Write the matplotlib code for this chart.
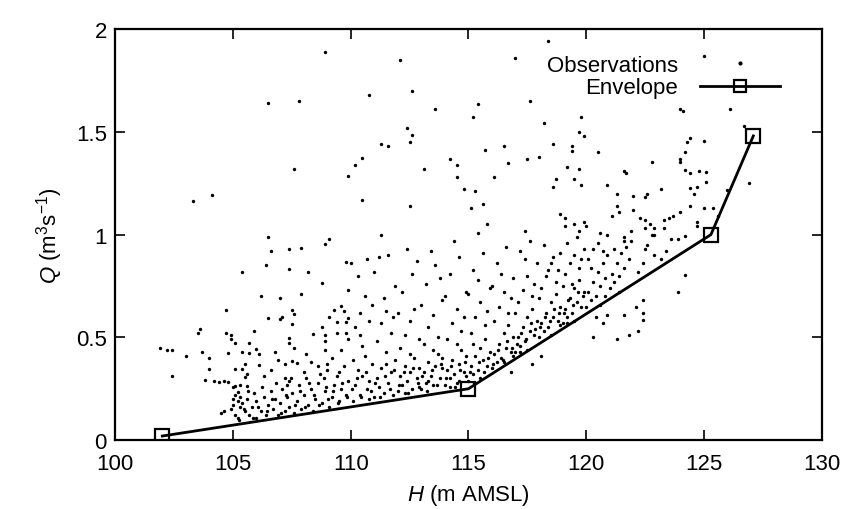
import matplotlib
matplotlib.use("Agg")
import matplotlib.pyplot as plt
from matplotlib.lines import Line2D
import numpy as np

plt.rcParams.update({
    "font.family": ["Liberation Sans", "DejaVu Sans"],
    "font.size": 15,
    "mathtext.fontset": "custom",
    "mathtext.it": "Liberation Sans:italic",
    "mathtext.rm": "Liberation Sans",
})

# ── Data ──────────────────────────────────────────────────────────────────
# envelope (lower bound of the observations)
env_h = [102.0, 115.0, 125.3, 127.1]
env_q = [0.02, 0.25, 1.00, 1.48]

# sparse points, upper part of the cloud (H, Q)
obs_upper = [
    (108.9, 1.89), (106.5, 1.64), (107.8, 1.65), (107.6, 1.32), (109.9, 1.285),
    (103.3, 1.165), (104.1, 1.195), (106.5, 0.99), (112.1, 1.85), (117.0, 1.86),
    (118.4, 1.94), (110.8, 1.68), (112.6, 1.70), (115.4, 1.635), (117.6, 1.65),
    (113.6, 1.61), (115.2, 1.57), (118.2, 1.545), (119.8, 1.57), (112.4, 1.52),
    (112.6, 1.485), (112.5, 1.45), (111.3, 1.44), (111.6, 1.43), (110.5, 1.375),
    (110.2, 1.34), (113.1, 1.32), (114.2, 1.37), (114.5, 1.34), (114.5, 1.28),
    (115.7, 1.41), (116.5, 1.43), (116.7, 1.35), (116.1, 1.28), (117.5, 1.37),
    (118.0, 1.38), (118.6, 1.44), (119.4, 1.43), (119.4, 1.405), (119.7, 1.50),
    (119.9, 1.48), (119.2, 1.33), (119.7, 1.32), (118.7, 1.27), (119.5, 1.27),
    (118.6, 1.23), (119.8, 1.24), (114.8, 1.22), (115.3, 1.21), (110.5, 1.17),
    (112.5, 1.14), (115.1, 1.13), (115.6, 1.15), (118.9, 1.10), (119.1, 1.08),
    (119.9, 1.06), (115.8, 1.05), (115.4, 1.01), (111.3, 1.00), (117.4, 1.02),
    (119.1, 1.04), (119.5, 1.05), (119.7, 1.02), (125.0, 1.87), (126.1, 1.61),
    (126.7, 1.53), (124.0, 1.61), (124.1, 1.60), (124.4, 1.47), (124.3, 1.45),
    (125.0, 1.455), (120.5, 1.40), (124.2, 1.40), (124.0, 1.37), (124.0, 1.355),
    (122.8, 1.355), (121.6, 1.31), (121.7, 1.30), (124.2, 1.315), (124.4, 1.30),
    (124.8, 1.31), (125.1, 1.305), (125.1, 1.255), (126.9, 1.25), (120.9, 1.24),
    (123.2, 1.22), (122.6, 1.20), (121.3, 1.20), (122.0, 1.19), (122.5, 1.185),
    (124.4, 1.225), (124.7, 1.23), (124.6, 1.20), (126.0, 1.215), (125.0, 1.13),
    (125.4, 1.13), (124.4, 1.14), (121.3, 1.14), (122.0, 1.12), (121.4, 1.11),
    (121.1, 1.09), (124.0, 1.11), (123.7, 1.09), (123.5, 1.08), (122.3, 1.08),
    (122.5, 1.07), (125.6, 1.09), (122.7, 1.05), (122.5, 1.03), (122.9, 1.03),
    (123.3, 1.03), (121.9, 1.02), (120.6, 1.01), (120.9, 1.00), (120.0, 1.04),
    (121.6, 0.97), (122.9, 1.00), (124.2, 0.995),
]

# left part of the cloud, H < 110
obs_left = [
    (109.1, 0.98), (108.9, 0.955), (106.6, 0.92), (107.4, 0.93), (107.9, 0.935),
    (109.8, 0.865), (110.0, 0.86), (105.4, 0.82), (106.4, 0.85), (107.4, 0.835),
    (108.2, 0.82), (108.8, 0.765), (109.9, 0.73), (107.9, 0.71), (106.2, 0.70),
    (107.0, 0.69), (109.6, 0.655), (109.7, 0.63), (104.7, 0.635), (107.5, 0.635),
    (107.6, 0.615), (109.3, 0.635), (106.5, 0.595), (107.0, 0.59), (107.1, 0.60),
    (109.1, 0.60), (107.5, 0.565), (108.8, 0.55), (109.4, 0.575), (109.8, 0.575),
    (109.9, 0.595), (103.6, 0.54), (105.9, 0.53), (104.7, 0.52), (104.9, 0.51),
    (104.9, 0.49), (105.1, 0.475), (105.7, 0.475), (106.0, 0.445), (106.1, 0.42),
    (107.4, 0.495), (107.4, 0.475), (107.6, 0.45), (108.4, 0.515), (108.9, 0.51),
    (108.9, 0.48), (108.9, 0.44), (109.4, 0.52), (109.8, 0.52), (109.9, 0.49),
    (101.9, 0.45), (102.4, 0.44), (103.0, 0.41), (103.7, 0.43), (104.8, 0.425),
    (105.4, 0.43), (105.7, 0.425), (106.8, 0.43), (102.4, 0.31), (104.0, 0.345),
    (103.8, 0.295), (104.2, 0.29), (104.4, 0.285), (104.6, 0.29), (104.8, 0.285),
    (105.0, 0.26), (105.1, 0.265), (105.3, 0.27), (105.6, 0.265), (105.5, 0.37),
    (105.4, 0.345), (105.6, 0.32), (105.5, 0.305), (105.1, 0.345), (106.1, 0.365),
    (107.2, 0.37), (107.5, 0.385), (107.7, 0.375), (108.3, 0.38), (107.2, 0.30),
    (107.4, 0.29), (107.3, 0.27), (102.2, 0.44), (103.5, 0.52), (104.0, 0.40),
    (108.1, 0.42), (108.6, 0.36), (109.2, 0.40), (109.6, 0.44), (106.6, 0.34),
    (106.9, 0.39), (108.0, 0.33), (109.0, 0.37), (109.5, 0.33), (106.3, 0.31),
]

# dense band just above the envelope, H 104.5-110
obs_band_low = [
    (104.5, 0.13), (104.6, 0.14), (104.9, 0.15), (105.0, 0.17), (105.0, 0.20),
    (105.1, 0.22), (105.2, 0.235), (105.2, 0.19), (105.3, 0.16), (105.3, 0.21),
    (105.4, 0.18), (105.1, 0.12), (105.2, 0.11), (105.5, 0.14), (105.6, 0.20),
    (105.7, 0.12), (105.8, 0.16), (105.9, 0.23), (106.0, 0.11), (106.0, 0.19),
    (106.2, 0.14), (106.3, 0.21), (106.4, 0.12), (106.5, 0.17), (106.6, 0.24),
    (106.7, 0.15), (106.8, 0.20), (106.9, 0.12), (107.0, 0.18), (107.1, 0.25),
    (107.2, 0.14), (107.3, 0.21), (107.4, 0.16), (107.5, 0.23), (107.6, 0.13),
    (107.7, 0.19), (107.8, 0.27), (107.9, 0.15), (108.0, 0.22), (108.1, 0.30),
    (108.2, 0.17), (108.3, 0.25), (108.4, 0.14), (108.5, 0.20), (108.6, 0.28),
    (108.7, 0.32), (108.8, 0.18), (108.9, 0.24), (109.0, 0.34), (109.1, 0.16),
    (109.2, 0.21), (109.3, 0.27), (109.4, 0.31), (109.5, 0.19), (109.6, 0.25),
    (109.7, 0.36), (109.8, 0.22), (109.9, 0.29), (105.25, 0.10), (105.45, 0.15),
    (105.65, 0.24), (105.85, 0.11), (106.05, 0.16), (106.25, 0.26), (106.45, 0.14),
    (106.65, 0.20), (106.85, 0.28), (107.05, 0.13), (107.25, 0.22), (107.45, 0.30),
    (107.65, 0.17), (107.85, 0.24), (108.05, 0.16), (108.25, 0.28), (108.45, 0.22),
    (108.65, 0.17), (108.85, 0.30), (108.95, 0.26), (109.05, 0.20), (109.25, 0.24),
    (109.45, 0.18), (109.65, 0.28), (109.85, 0.21),
]

# middle of the cloud, H 110-122
obs_mid = [
    (110.1, 0.19), (110.2, 0.27), (110.3, 0.34), (110.4, 0.22), (110.5, 0.31),
    (110.6, 0.41), (110.7, 0.25), (110.8, 0.20), (110.9, 0.37), (110.2, 0.55),
    (110.4, 0.62), (110.6, 0.70), (110.8, 0.58), (110.3, 0.80), (110.7, 0.88),
    (110.9, 0.66), (110.5, 0.46), (110.1, 0.39), (110.8, 0.29), (110.4, 0.51),
    (111.0, 0.21), (111.1, 0.30), (111.2, 0.26), (111.3, 0.35), (111.4, 0.23),
    (111.5, 0.43), (111.6, 0.28), (111.7, 0.33), (111.8, 0.22), (111.9, 0.39),
    (111.1, 0.48), (111.3, 0.57), (111.5, 0.63), (111.7, 0.52), (111.9, 0.75),
    (111.2, 0.89), (111.6, 0.90), (111.4, 0.69), (111.8, 0.60), (111.0, 0.82),
    (111.5, 0.37), (112.0, 0.24), (112.1, 0.31), (112.2, 0.27), (112.3, 0.36),
    (112.4, 0.29), (112.5, 0.33), (112.6, 0.25), (112.7, 0.40), (112.8, 0.30),
    (112.9, 0.35), (112.1, 0.45), (112.3, 0.51), (112.5, 0.58), (112.7, 0.64),
    (112.9, 0.49), (112.2, 0.72), (112.6, 0.81), (112.4, 0.93), (112.8, 0.87),
    (112.0, 0.62), (112.5, 0.42), (112.9, 0.26), (112.3, 0.23), (113.0, 0.25),
    (113.1, 0.33), (113.2, 0.28), (113.3, 0.38), (113.4, 0.31), (113.5, 0.27),
    (113.6, 0.36), (113.7, 0.42), (113.8, 0.30), (113.9, 0.35), (113.1, 0.47),
    (113.3, 0.55), (113.5, 0.61), (113.7, 0.50), (113.9, 0.68), (113.2, 0.76),
    (113.6, 0.85), (113.4, 0.92), (113.8, 0.79), (113.0, 0.66), (113.5, 0.44),
    (113.9, 0.40), (113.3, 0.29), (114.0, 0.27), (114.1, 0.34), (114.2, 0.30),
    (114.3, 0.39), (114.4, 0.32), (114.5, 0.28), (114.6, 0.37), (114.7, 0.44),
    (114.8, 0.33), (114.9, 0.41), (114.1, 0.49), (114.3, 0.57), (114.5, 0.64),
    (114.7, 0.53), (114.9, 0.72), (114.2, 0.81), (114.6, 0.89), (114.4, 0.97),
    (114.8, 0.60), (114.0, 0.70), (114.5, 0.47), (114.9, 0.31), (114.2, 0.26),
    (114.6, 0.29), (115.0, 0.29), (115.1, 0.36), (115.2, 0.32), (115.3, 0.41),
    (115.4, 0.34), (115.5, 0.45), (115.6, 0.39), (115.7, 0.49), (115.8, 0.36),
    (115.9, 0.43), (115.1, 0.52), (115.3, 0.60), (115.5, 0.67), (115.7, 0.56),
    (115.9, 0.74), (115.2, 0.83), (115.6, 0.91), (115.4, 0.78), (115.8, 0.63),
    (115.0, 0.71), (115.5, 0.30), (115.2, 0.47), (116.0, 0.35), (116.1, 0.42),
    (116.2, 0.38), (116.3, 0.47), (116.4, 0.40), (116.5, 0.52), (116.6, 0.45),
    (116.7, 0.56), (116.8, 0.43), (116.9, 0.50), (116.1, 0.58), (116.3, 0.65),
    (116.5, 0.72), (116.7, 0.62), (116.9, 0.79), (116.2, 0.86), (116.6, 0.94),
    (116.4, 0.81), (116.8, 0.69), (116.0, 0.75), (116.5, 0.38), (116.9, 0.41),
    (117.0, 0.43), (117.1, 0.50), (117.2, 0.46), (117.3, 0.55), (117.4, 0.48),
    (117.5, 0.60), (117.6, 0.53), (117.7, 0.64), (117.8, 0.51), (117.9, 0.58),
    (117.1, 0.67), (117.3, 0.73), (117.5, 0.80), (117.7, 0.70), (117.9, 0.86),
    (117.2, 0.92), (117.6, 0.97), (117.4, 0.88), (117.8, 0.76), (117.0, 0.62),
    (117.5, 0.44), (117.2, 0.43), (118.0, 0.50), (118.1, 0.57), (118.2, 0.53),
    (118.3, 0.62), (118.4, 0.55), (118.5, 0.67), (118.6, 0.60), (118.7, 0.71),
    (118.8, 0.58), (118.9, 0.65), (118.1, 0.74), (118.3, 0.80), (118.5, 0.86),
    (118.7, 0.77), (118.9, 0.91), (118.2, 0.95), (118.6, 0.89), (118.4, 0.83),
    (118.8, 0.83), (118.0, 0.69), (118.5, 0.51), (118.9, 0.56), (119.0, 0.57),
    (119.1, 0.64), (119.2, 0.60), (119.3, 0.69), (119.4, 0.62), (119.5, 0.74),
    (119.6, 0.67), (119.7, 0.78), (119.8, 0.65), (119.9, 0.72), (119.1, 0.81),
    (119.3, 0.86), (119.5, 0.90), (119.7, 0.84), (119.9, 0.93), (119.2, 0.96),
    (119.6, 0.99), (119.4, 0.76), (119.8, 0.88), (119.0, 0.75), (119.5, 0.58),
    (119.2, 0.57), (120.0, 0.65), (120.1, 0.72), (120.2, 0.68), (120.3, 0.77),
    (120.4, 0.70), (120.5, 0.82), (120.6, 0.75), (120.7, 0.86), (120.8, 0.79),
    (120.9, 0.90), (120.1, 0.88), (120.3, 0.93), (120.5, 0.96), (120.7, 0.92),
    (120.2, 0.84), (120.6, 0.66), (120.4, 0.60), (120.8, 0.70), (121.0, 0.74),
    (121.1, 0.81), (121.2, 0.77), (121.3, 0.86), (121.4, 0.80), (121.5, 0.91),
    (121.6, 0.84), (121.7, 0.94), (121.8, 0.88), (121.9, 0.97), (121.2, 0.93),
    (121.6, 0.99), (121.4, 0.72),
]

# dense band above the envelope, H 110-120
obs_band_high = [
    (110.05, 0.25), (110.25, 0.30), (110.45, 0.21), (110.65, 0.33), (110.85, 0.24),
    (111.05, 0.28), (111.25, 0.21), (111.45, 0.31), (111.65, 0.25), (111.85, 0.34),
    (112.05, 0.27), (112.25, 0.33), (112.45, 0.23), (112.65, 0.35), (112.85, 0.28),
    (113.05, 0.31), (113.25, 0.24), (113.45, 0.34), (113.65, 0.27), (113.85, 0.37),
    (114.05, 0.30), (114.25, 0.36), (114.45, 0.26), (114.65, 0.34), (114.85, 0.38),
    (115.05, 0.33), (115.25, 0.28), (115.45, 0.38), (115.65, 0.33), (115.85, 0.40),
    (116.05, 0.37), (116.25, 0.44), (116.45, 0.39), (116.65, 0.48), (116.85, 0.45),
    (117.05, 0.47), (117.25, 0.52), (117.45, 0.49), (117.65, 0.57), (117.85, 0.54),
    (118.05, 0.55), (118.25, 0.60), (118.45, 0.58), (118.65, 0.64), (118.85, 0.62),
    (119.05, 0.62), (119.25, 0.68), (119.45, 0.66), (119.65, 0.72), (119.85, 0.70),
]

# right-hand points, some below the envelope
obs_right = [
    (122.5, 0.93), (122.6, 0.95), (122.8, 1.00), (123.4, 0.92), (123.6, 0.98),
    (123.9, 0.98), (124.2, 0.805), (123.9, 0.72), (123.2, 0.88), (124.7, 1.04),
    (124.7, 1.06), (123.3, 1.07), (122.2, 0.82), (122.4, 0.86), (122.9, 0.90),
    (120.3, 0.50), (120.7, 0.57), (121.3, 0.49), (121.8, 0.51), (122.2, 0.53),
    (121.6, 0.61), (122.1, 0.65), (122.4, 0.68), (122.4, 0.62), (122.4, 0.585),
    (120.9, 0.61), (117.7, 0.37), (118.1, 0.41), (116.8, 0.33),
]

x_ticks = [100, 105, 110, 115, 120, 125, 130]
y_ticks = [0, 0.5, 1, 1.5, 2]
y_tick_labels = ["0", "0.5", "1", "1.5", "2"]

obs = np.array(obs_upper + obs_left + obs_band_low + obs_mid
               + obs_band_high + obs_right)
obs_h, obs_q = obs[:, 0], obs[:, 1]

# ── Figure ────────────────────────────────────────────────────────────────
fig = plt.figure(figsize=(8.47, 5.10), dpi=100)
ax = fig.add_axes([0.136, 0.135, 0.834, 0.806])

ax.scatter(obs_h, obs_q, s=6, c="black", marker="o", linewidths=0,
           label="Observations", zorder=2)
ax.plot(env_h, env_q, color="black", linewidth=2.0, marker="s",
        markersize=10, markerfacecolor="none", markeredgewidth=1.6,
        label="Envelope", zorder=3)

ax.set_xlim(100, 130)
ax.set_ylim(0, 2)
ax.set_xticks(x_ticks)
ax.set_yticks(y_ticks)
ax.set_yticklabels(y_tick_labels)
ax.tick_params(direction="in", length=7, width=1.2, top=True, right=True,
               labelsize=16)
ax.tick_params(axis="x", pad=9)
ax.tick_params(axis="y", pad=6)
for sp in ax.spines.values():
    sp.set_linewidth(1.6)

ax.set_xlabel(r"$\mathit{H}$ (m AMSL)", fontsize=16, labelpad=6)
ax.set_ylabel(r"$\mathit{Q}$ (m$^3$s$^{-1}$)", fontsize=16, labelpad=8)

handles = [
    Line2D([], [], linestyle="none", marker="o", markersize=2,
           color="black"),
    Line2D([], [], color="black", linewidth=2.0, marker="s", markersize=9,
           markerfacecolor="none", markeredgewidth=1.6),
]
leg = ax.legend(handles, ["Observations", "Envelope"], loc="upper right",
                bbox_to_anchor=(0.97, 0.985), frameon=False, markerfirst=False,
                handlelength=3.6, labelspacing=0.05, handletextpad=1.0,
                fontsize=16)

fig.savefig("out.png", dpi=100)
